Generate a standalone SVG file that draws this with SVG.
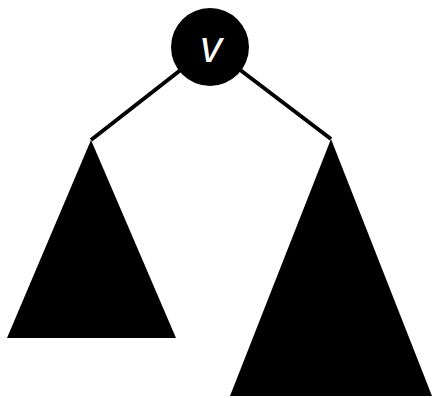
<svg xmlns="http://www.w3.org/2000/svg" width="433" height="398" viewBox="0 0 433 398">
<style>
.edge{stroke:#000;stroke-width:4;fill:none}
.tri{fill:#000}
.lbl{font-family:"Liberation Sans",Arial,sans-serif;font-style:italic;font-size:44px;fill:#fff;text-anchor:middle}
</style>
<g id="connectors">
<line class="edge" x1="210" y1="47" x2="91" y2="140"/>
<line class="edge" x1="210" y1="47" x2="331" y2="139"/>
</g>
<g id="left-subtree"><polygon class="tri" points="91,140 176,338 7,338"/></g>
<g id="right-subtree"><polygon class="tri" points="331,139 432,396 230,396"/></g>
<g id="v"><circle cx="210" cy="47" r="39" fill="#000"/><text class="lbl" x="211" y="62">v</text></g>
</svg>
